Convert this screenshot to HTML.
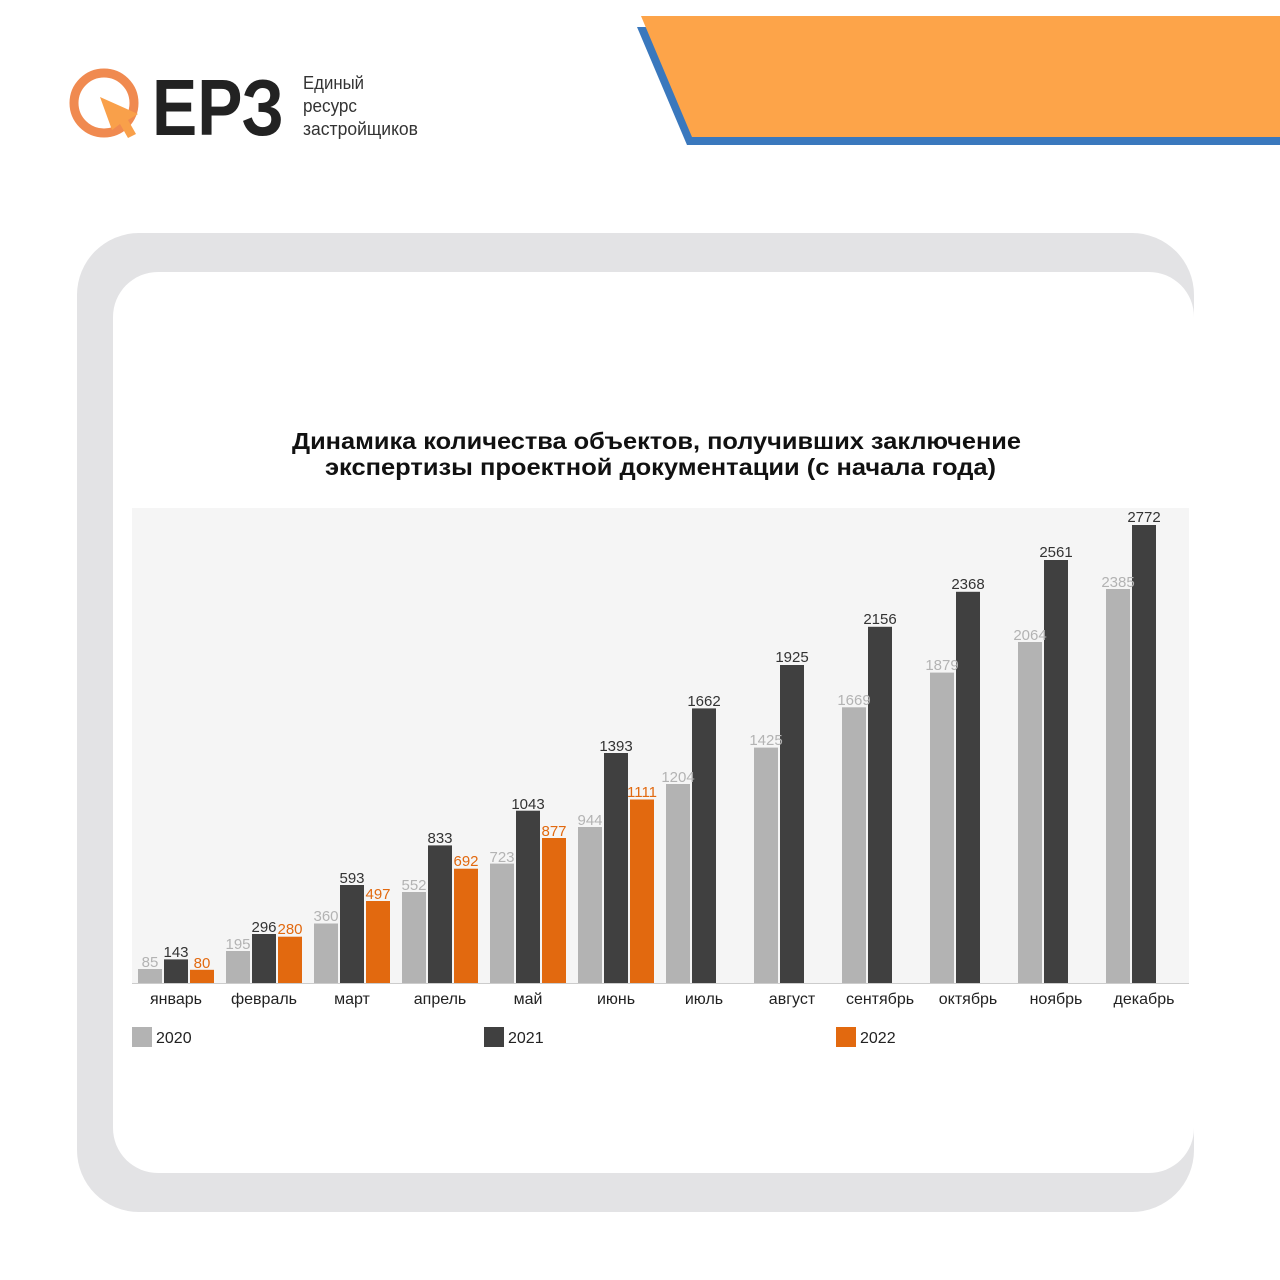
<!DOCTYPE html>
<html><head><meta charset="utf-8"><style>
html,body{margin:0;padding:0;background:#fff;width:1280px;height:1280px;overflow:hidden}
svg{display:block}
.t{font-family:"Liberation Sans","DejaVu Sans",sans-serif}
</style></head><body>
<svg width="1280" height="1280" viewBox="0 0 1280 1280" class="t">
<rect width="1280" height="1280" fill="#fff"/>
<polygon points="637,27 1280,27 1280,145 687,145" fill="#3a78bd"/>
<polygon points="641,16 1280,16 1280,137 692,137" fill="#fda449"/>
<circle cx="104" cy="103" r="30" fill="none" stroke="#f08a50" stroke-width="9"/>
<polygon points="100,97 138,114 128,120 136,134 128,138 120,124 112,130" fill="#f9a04a"/>
<text x="152" y="135" font-size="80" font-weight="bold" fill="#222" textLength="132" lengthAdjust="spacingAndGlyphs">ЕРЗ</text>
<text x="303" y="89" font-size="18" fill="#333" textLength="61" lengthAdjust="spacingAndGlyphs">Единый</text>
<text x="303" y="112" font-size="18" fill="#333" textLength="54" lengthAdjust="spacingAndGlyphs">ресурс</text>
<text x="303" y="135" font-size="18" fill="#333" textLength="115" lengthAdjust="spacingAndGlyphs">застройщиков</text>
<rect x="77" y="233" width="1117" height="979" rx="62" fill="#e3e3e5"/>
<rect x="113" y="272" width="1081" height="901" rx="45" fill="#fff"/>
<text x="292" y="449" font-size="23" font-weight="bold" fill="#111" textLength="729" lengthAdjust="spacingAndGlyphs">Динамика количества объектов, получивших заключение</text>
<text x="325" y="475" font-size="23" font-weight="bold" fill="#111" textLength="671" lengthAdjust="spacingAndGlyphs">экспертизы проектной документации (с начала года)</text>
<rect x="132" y="508" width="1057" height="475" fill="#f5f5f5"/>
<line x1="132" y1="983.5" x2="1189" y2="983.5" stroke="#ccc"/>
<g fill="#b3b3b3">
<rect x="138" y="969" width="24" height="14"/><rect x="226" y="951" width="24" height="32"/><rect x="314" y="923.5" width="24" height="59.5"/><rect x="402" y="892" width="24" height="91"/><rect x="490" y="863.6" width="24" height="119.4"/><rect x="578" y="827" width="24" height="156"/><rect x="666" y="784" width="24" height="199"/><rect x="754" y="747.6" width="24" height="235.4"/><rect x="842" y="707.3" width="24" height="275.7"/><rect x="930" y="672.6" width="24" height="310.4"/><rect x="1018" y="642" width="24" height="341"/><rect x="1106" y="589" width="24" height="394"/>
</g>
<g fill="#404040">
<rect x="164" y="959.4" width="24" height="23.6"/><rect x="252" y="934" width="24" height="49"/><rect x="340" y="885" width="24" height="98"/><rect x="428" y="845.4" width="24" height="137.6"/><rect x="516" y="810.7" width="24" height="172.3"/><rect x="604" y="753" width="24" height="230"/><rect x="692" y="708.4" width="24" height="274.6"/><rect x="780" y="665" width="24" height="318"/><rect x="868" y="626.8" width="24" height="356.2"/><rect x="956" y="591.8" width="24" height="391.2"/><rect x="1044" y="560" width="24" height="423"/><rect x="1132" y="525" width="24" height="458"/>
</g>
<g fill="#e2690f">
<rect x="190" y="969.8" width="24" height="13.2"/><rect x="278" y="936.7" width="24" height="46.3"/><rect x="366" y="901" width="24" height="82"/><rect x="454" y="868.7" width="24" height="114.3"/><rect x="542" y="838" width="24" height="145"/><rect x="630" y="799.5" width="24" height="183.5"/>
</g>
<g font-size="15" fill="#b3b3b3" text-anchor="middle">
<text x="150" y="967">85</text><text x="238" y="949">195</text><text x="326" y="921">360</text><text x="414" y="890">552</text><text x="502" y="862">723</text><text x="590" y="825">944</text><text x="678" y="782">1204</text><text x="766" y="745">1425</text><text x="854" y="705">1669</text><text x="942" y="670">1879</text><text x="1030" y="640">2064</text><text x="1118" y="587">2385</text>
</g>
<g font-size="15" fill="#333" text-anchor="middle">
<text x="176" y="957">143</text><text x="264" y="932">296</text><text x="352" y="883">593</text><text x="440" y="843">833</text><text x="528" y="809">1043</text><text x="616" y="751">1393</text><text x="704" y="706">1662</text><text x="792" y="662">1925</text><text x="880" y="624">2156</text><text x="968" y="589">2368</text><text x="1056" y="557">2561</text><text x="1144" y="522">2772</text>
</g>
<g font-size="15" fill="#e2690f" text-anchor="middle">
<text x="202" y="968">80</text><text x="290" y="934">280</text><text x="378" y="899">497</text><text x="466" y="866">692</text><text x="554" y="836">877</text><text x="642" y="797">1111</text>
</g>
<g font-size="16" fill="#222" text-anchor="middle">
<text x="176" y="1004">январь</text><text x="264" y="1004">февраль</text><text x="352" y="1004">март</text><text x="440" y="1004">апрель</text><text x="528" y="1004">май</text><text x="616" y="1004">июнь</text><text x="704" y="1004">июль</text><text x="792" y="1004">август</text><text x="880" y="1004">сентябрь</text><text x="968" y="1004">октябрь</text><text x="1056" y="1004">ноябрь</text><text x="1144" y="1004">декабрь</text>
</g>
<rect x="132" y="1027" width="20" height="20" fill="#b3b3b3"/><text x="156" y="1043" font-size="16" fill="#222">2020</text>
<rect x="484" y="1027" width="20" height="20" fill="#404040"/><text x="508" y="1043" font-size="16" fill="#222">2021</text>
<rect x="836" y="1027" width="20" height="20" fill="#e2690f"/><text x="860" y="1043" font-size="16" fill="#222">2022</text>
</svg>
</body></html>
